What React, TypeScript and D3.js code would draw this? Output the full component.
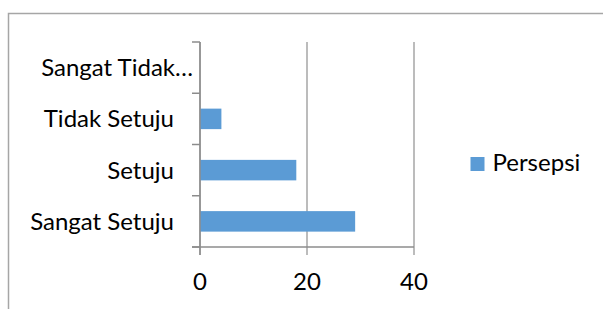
import React from "react";
import * as d3 from "d3";

const categories = ["Sangat Setuju", "Setuju", "Tidak Setuju", "Sangat Tidak…"];
const persepsi = [29, 18, 4, 0];
const xTicks = [0, 20, 40];
const seriesName = "Persepsi";

const W = 603;
const H = 309;
const FONT = "Lato, 'Open Sans', sans-serif";
const FS = 24;
const GRID = "#a6a6a6";

export default function App() {
  const x = d3.scaleLinear().domain([0, 40]).range([200, 414]);
  const y = d3
    .scaleBand<string>()
    .domain([...categories].reverse())
    .range([42, 247])
    .paddingInner(0)
    .paddingOuter(0);
  const bw = y.bandwidth();
  const boundaries = d3.range(categories.length + 1).map((i) => 42 + i * bw);

  return (
    <svg
      width={W}
      height={H}
      style={{ position: "absolute", left: 0, top: 0, background: "#fff" }}
      fontFamily={FONT}
    >
      <rect x={0} y={0} width={W} height={H} fill="#fff" />
      <rect x={8.5} y={13.5} width={700} height={400} fill="none" stroke={GRID} strokeWidth={1.5} />
      {/* gridlines */}
      {xTicks.map((t) => (
        <line key={"g" + t} x1={x(t)} x2={x(t)} y1={42} y2={255} stroke={GRID} strokeWidth={1.5} />
      ))}
      {/* bars */}
      {categories.map((c, i) => (
        <rect
          key={c}
          x={x(0)}
          y={(y(c) as number) + bw * 0.3}
          width={x(persepsi[i]) - x(0)}
          height={bw * 0.4}
          fill="#5b9bd5"
        />
      ))}
      {/* y axis */}
      <line x1={x(0)} x2={x(0)} y1={42} y2={255} stroke="#8c8c8c" strokeWidth={1.5} />
      {boundaries.map((b, i) => (
        <line key={"t" + i} x1={192} x2={x(0)} y1={b} y2={b} stroke="#8c8c8c" strokeWidth={1.5} />
      ))}
      {/* x axis */}
      <line x1={192} x2={x(40)} y1={247} y2={247} stroke="#8c8c8c" strokeWidth={1.5} />
      {/* category labels */}
      {categories.map((c) => (
        <text
          key={"l" + c}
          x={c.endsWith("…") ? 193 : 174}
          y={(y(c) as number) + bw / 2}
          dy="0.35em"
          textAnchor="end"
          fontSize={FS}
          fill="#000"
        >
          {c}
        </text>
      ))}
      {/* x tick labels */}
      {xTicks.map((t) => (
        <text key={"x" + t} x={x(t)} y={290} textAnchor="middle" fontSize={FS} fill="#000">
          {t}
        </text>
      ))}
      {/* legend */}
      <rect x={470.5} y={157} width={14} height={14} fill="#5b9bd5" />
      <text x={492.5} y={171} fontSize={FS} fill="#000">
        {seriesName}
      </text>
    </svg>
  );
}
